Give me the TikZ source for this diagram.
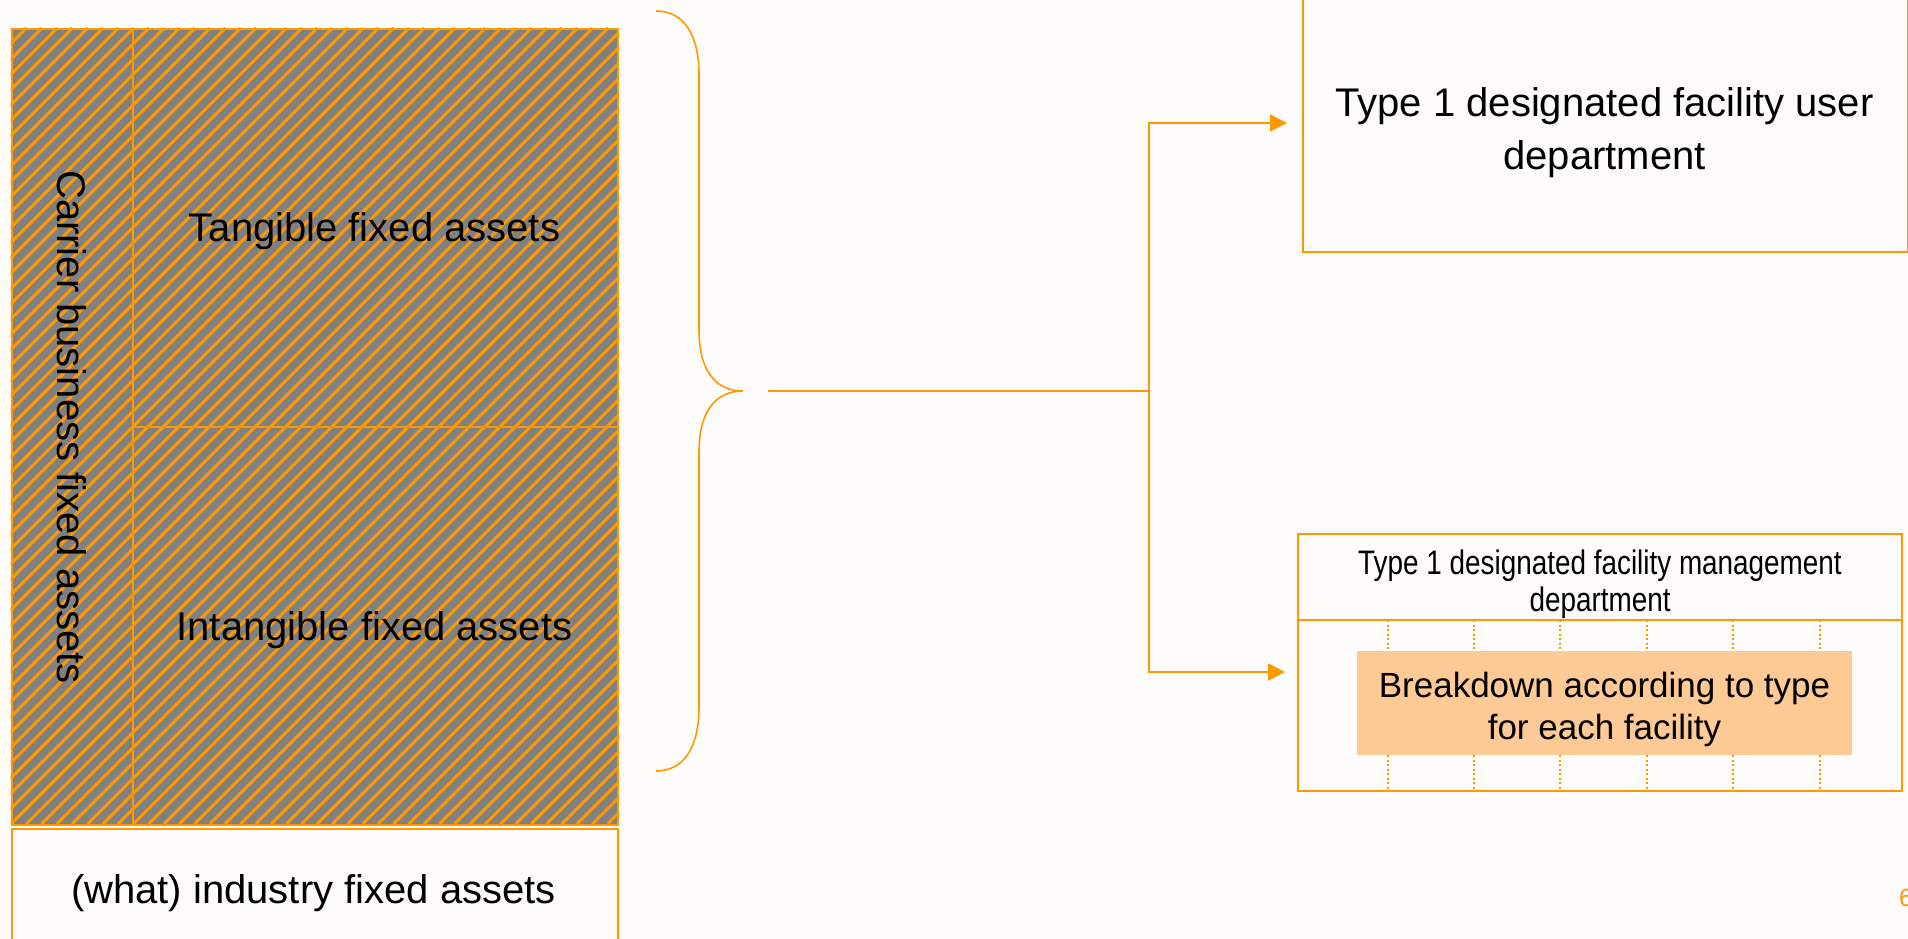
\documentclass[tikz,border=0pt]{standalone}
\usepackage{fontspec}
\setmainfont{Liberation Sans}
\newfontfamily\narrowfont[FakeStretch=0.82]{Liberation Sans}
\usetikzlibrary{arrows.meta,calc}
\definecolor{org}{HTML}{FF9900}
\definecolor{hgray}{HTML}{808080}
\definecolor{peach}{HTML}{FDC995}
\definecolor{bg}{HTML}{FDFCFB}
\begin{document}
\begin{tikzpicture}[x=1pt,y=-1pt,
  cell/.style={draw=org, line width=2pt, inner sep=0pt},
  lbl/.style={font=\fontsize{40}{53}\selectfont, align=center, text=black, inner sep=0pt},
  conn/.style={draw=org, line width=2pt},
  tip/.style={-{Triangle[length=17pt,width=17pt]}},
  dotl/.style={draw=org, line width=1.5pt, dash pattern=on 2pt off 2.5pt}
]
\fill[bg] (0,0) rectangle (1908,939);
\useasboundingbox (0,0) rectangle (1908,939);

% hatched area
\begin{scope}
\clip (10.5,28) rectangle (617,824);
\fill[hgray] (10.5,28) rectangle (617,824);
\foreach \k in {-800,-784.7,...,625} \draw[org, line width=3pt] (\k,824) -- ++(796,-796);
\end{scope}

\node[cell, anchor=north west, minimum width=121.5pt, minimum height=796pt] (carrier) at (10.5,28) {};
\node[cell, anchor=north west, minimum width=485pt, minimum height=398pt] (tangible) at (132,28) {};
\node[cell, anchor=north west, minimum width=485pt, minimum height=398pt] (intangible) at (132,426) {};
\node[cell, anchor=north west, minimum width=606.5pt, minimum height=140pt] (industry) at (10.5,828) {};

\node[lbl, rotate=-90] (carriertxt) at (carrier.center) {Carrier business fixed assets};
\node[lbl] (tangtxt) at (374.5,231) {Tangible fixed assets};
\node[lbl] (intangtxt) at (374.5,630) {Intangible fixed assets};
\node[lbl] (indtxt) at (313.5,893) {(what) industry fixed assets};

% brace
\coordinate (btip) at (743,391);
\draw[org, line width=1.6pt] (656,11) .. controls (684,11) and (699,35) .. (699,75) -- (699,330)
  .. controls (699,370) and (715,391) .. (btip)
  .. controls (715,391) and (699,412) .. (699,452) -- (699,707)
  .. controls (699,747) and (684,771) .. (656,771);

% right boxes
\node[cell, anchor=south west, minimum width=605pt, minimum height=275pt] (ubox) at (1302,253) {};
\node[lbl] (utxt) at (1604.5,133) {Type 1 designated facility user\\department};

\node[cell, anchor=north west, minimum width=604pt, minimum height=86pt] (mtitle) at (1297,533) {};
\node[cell, anchor=north west, minimum width=604pt, minimum height=171pt] (mbody) at (1297,619) {};
\node[font=\narrowfont\fontsize{34}{37}\selectfont, align=center, inner sep=0pt] (mtxt) at (1600,584) {Type 1 designated facility management\\department};
\foreach \x in {1388,1474,1560,1647,1733,1820} {
  \draw[dotl] (\x,620) -- (\x,651);
  \draw[dotl] (\x,755) -- (\x,789);
}
\node[fill=peach, minimum width=495pt, minimum height=104pt, inner sep=0pt] (breakdown) at (1604.5,703) {};
\node[font=\fontsize{35}{42}\selectfont, align=center, inner sep=0pt] (bdtxt) at (1604.5,709) {Breakdown according to type\\for each facility};

% connectors
\coordinate (bstart) at (768,391);
\coordinate (junc) at (1149,391);
\coordinate (uarr) at (1287,123);
\coordinate (larr) at (1285,672);
\draw[conn] (bstart) -- (junc);
\draw[conn, tip] (junc) |- (uarr);
\draw[conn, tip] (junc) |- (larr);

\node[anchor=west, text=org, font=\fontsize{25}{30}\selectfont, inner sep=0pt] (pnum) at (1899,898) {6};
\end{tikzpicture}
\end{document}
